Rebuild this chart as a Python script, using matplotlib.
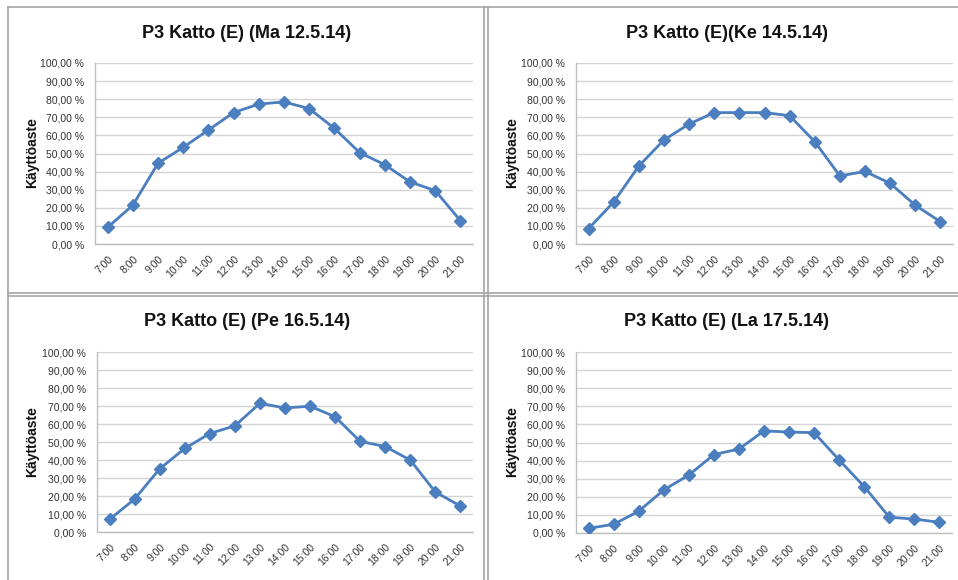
import matplotlib
matplotlib.use("Agg")
import matplotlib.pyplot as plt
from matplotlib.lines import Line2D

hours = ["7:00", "8:00", "9:00", "10:00", "11:00", "12:00", "13:00", "14:00",
         "15:00", "16:00", "17:00", "18:00", "19:00", "20:00", "21:00"]

titles = ["P3 Katto (E) (Ma 12.5.14)", "P3 Katto (E)(Ke 14.5.14)",
          "P3 Katto (E) (Pe 16.5.14)", "P3 Katto (E) (La 17.5.14)"]

ma_12 = [9.2, 21.4, 44.6, 53.4, 63.0, 72.6, 77.3, 78.5, 74.8, 63.9, 50.5, 43.8, 34.3, 29.5, 12.9]
ke_14 = [8.5, 23.2, 43.1, 57.5, 66.3, 72.6, 72.6, 72.6, 70.9, 56.5, 37.6, 40.1, 33.5, 21.4, 12.3]
pe_16 = [7.0, 18.3, 35.1, 46.4, 54.7, 59.0, 71.5, 68.9, 69.9, 64.0, 50.3, 47.5, 39.9, 22.2, 14.4]
la_17 = [2.6, 4.8, 12.0, 23.8, 32.0, 43.3, 46.4, 56.4, 55.8, 55.4, 40.3, 25.6, 8.7, 7.7, 5.9]

y_ticks = [0, 10, 20, 30, 40, 50, 60, 70, 80, 90, 100]
y_tick_labels = ["0,00 %", "10,00 %", "20,00 %", "30,00 %", "40,00 %", "50,00 %",
                 "60,00 %", "70,00 %", "80,00 %", "90,00 %", "100,00 %"]
y_label = "Käyttöaste"

series = [ma_12, ke_14, pe_16, la_17]

W, H = 958, 580
fig = plt.figure(figsize=(W / 100, H / 100), dpi=100)
fig.patch.set_facecolor("white")
plt.rcParams['font.family'] = ['Liberation Sans', 'DejaVu Sans']

# plot-area pixel boxes (left, top, right, bottom)
boxes = [(95, 63, 473, 244), (576, 63, 953, 244), (97, 352, 473, 532), (576, 352, 952, 533)]
title_pos = [(247, 33), (727, 33), (247, 322), (726, 322)]
ylabel_pos = [(32, 153), (512, 153), (32, 442), (512, 442)]

line_color = "#4A7EBF"
grid_color = "#D4D4D4"
text_color = "#333333"

for i, (vals, box) in enumerate(zip(series, boxes)):
    l, t, r, b = box
    ax = fig.add_axes([l / W, 1 - b / H, (r - l) / W, (b - t) / H])
    x = list(range(len(hours)))
    ax.plot(x, vals, color=line_color, lw=2.0, marker="D", ms=6.5,
            markerfacecolor=line_color, markeredgecolor=line_color, zorder=3)
    ax.set_xlim(-0.5, len(hours) - 0.5)
    ax.set_ylim(0, 100)
    ax.set_yticks(y_ticks)
    ax.set_yticklabels(y_tick_labels, fontsize=7.5, color=text_color)
    ax.set_xticks(x)
    ax.set_xticklabels(hours, fontsize=7.5, color=text_color, rotation=45,
                       ha="right", va="top", rotation_mode="anchor")
    ax.tick_params(axis="y", length=0, pad=8)
    ax.tick_params(axis="x", length=0, pad=7)
    ax.grid(axis="y", color=grid_color, lw=1.0)
    ax.set_axisbelow(True)
    for s in ["top", "right"]:
        ax.spines[s].set_visible(False)
    for s in ["left", "bottom"]:
        ax.spines[s].set_color("#BFBFBF")
        ax.spines[s].set_linewidth(1.0)
    tx, ty = title_pos[i]
    fig.text(tx / W, 1 - ty / H, titles[i], ha="center", va="center",
             fontsize=13, fontweight="bold", color="#111111")
    lx, ly = ylabel_pos[i]
    fig.text(lx / W, 1 - ly / H, y_label, ha="center", va="center", rotation=90,
             fontsize=10, fontweight="bold", color="#111111")

# panel frame lines (screenshot borders)
def hline(y, x0, x1, c="#A6A6A6", lw=1.2):
    fig.add_artist(Line2D([x0 / W, x1 / W], [1 - y / H, 1 - y / H], color=c, lw=lw))

def vline(x, y0, y1, c="#A6A6A6", lw=1.2):
    fig.add_artist(Line2D([x / W, x / W], [1 - y0 / H, 1 - y1 / H], color=c, lw=lw))

hline(7, 8, 958)
vline(8, 7, 580)
hline(292.5, 8, 958)
hline(295.7, 8, 958)
vline(484.5, 7, 580)
vline(487.7, 7, 580)

fig.savefig("out.png", dpi=100, facecolor="white")
